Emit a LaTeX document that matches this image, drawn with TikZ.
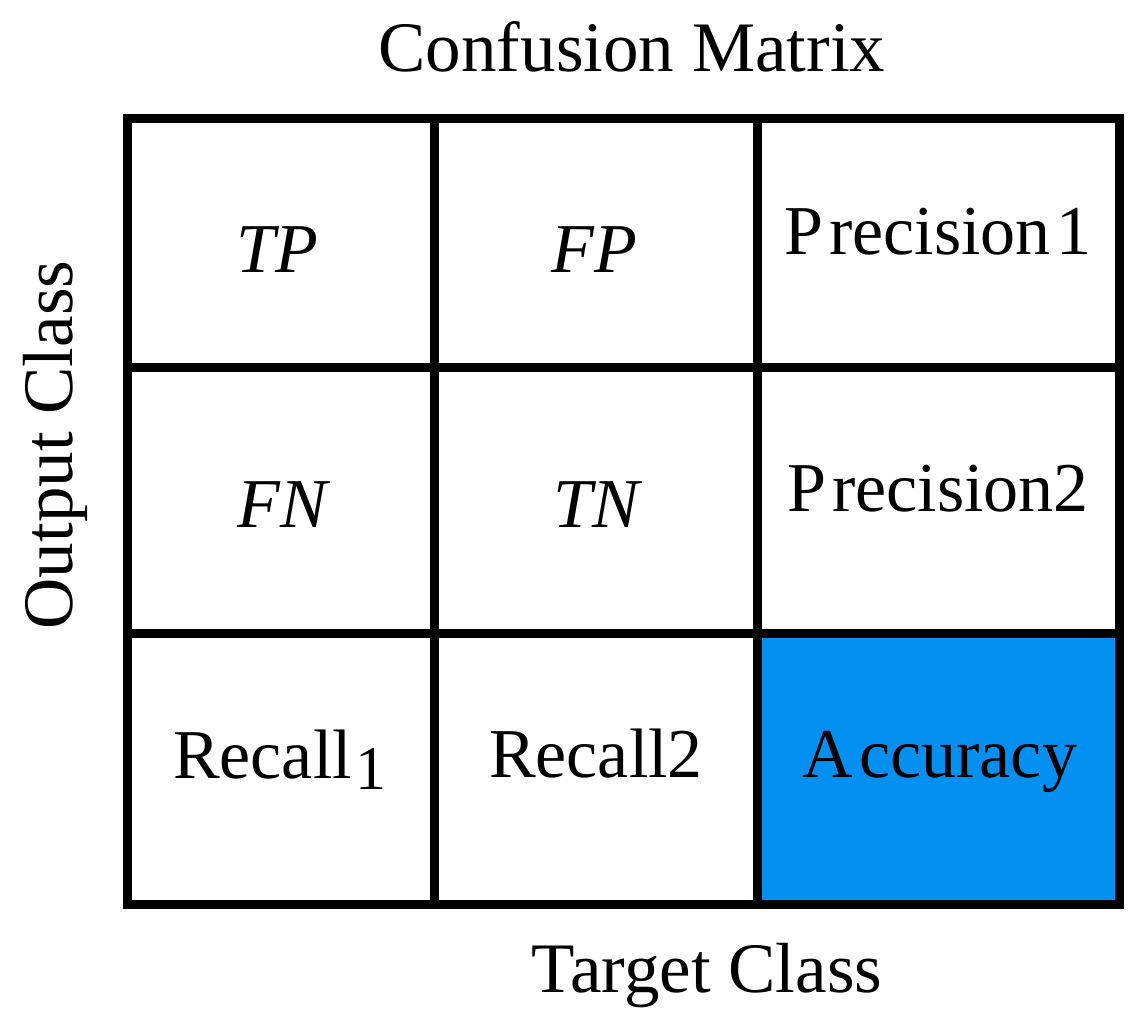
\documentclass[tikz,border=0pt]{standalone}
\usepackage{fontspec}
\setmainfont{Liberation Serif}
\definecolor{accblue}{RGB}{3,144,240}
\begin{document}
\begin{tikzpicture}[x=1pt,y=-1pt,
  grid/.style={line width=9pt, draw=black},
  celltext/.style={anchor=base, inner sep=0pt, font=\fontsize{70}{70}\selectfont},
  label/.style={inner sep=0pt, font=\fontsize{71}{71}\selectfont}]
\useasboundingbox (0,0) rectangle (1144,1026);
% highlighted cell
\fill[accblue] (757,633) rectangle (1119,904);
% grid
\draw[grid] (127,118) rectangle (1119,904);
\draw[grid] (434,118) -- (434,904);
\draw[grid] (757,118) -- (757,904);
\draw[grid] (127,367) -- (1119,367);
\draw[grid] (127,633) -- (1119,633);
% cell texts
\node[celltext] (tp) at (277,272) {\itshape TP};
\node[celltext] (fp) at (594,272) {\itshape FP};
\node[celltext] (p1) at (938,254) {P\kern6pt recision\kern6pt 1};
\node[celltext] (fn) at (282,527) {\itshape FN};
\node[celltext] (tn) at (596,527) {\itshape TN};
\node[celltext] (p2) at (938,511) {P\kern6pt recision2};
\node[celltext] (r1) at (280,778) {Recall\kern4pt\raisebox{-11pt}{\fontsize{62}{62}\selectfont 1}};
\node[celltext] (r2) at (596,777) {Recall2};
\node[celltext] (acc) at (940,777) {A\kern6pt ccuracy};
% axis labels
\node[label, anchor=base] (title) at (632,71) {Confusion Matrix};
\node[label, anchor=base] (target) at (707,992) {Target Class};
\node[label, anchor=base, rotate=90] (output) at (72,445) {Output Class};
\end{tikzpicture}
\end{document}
